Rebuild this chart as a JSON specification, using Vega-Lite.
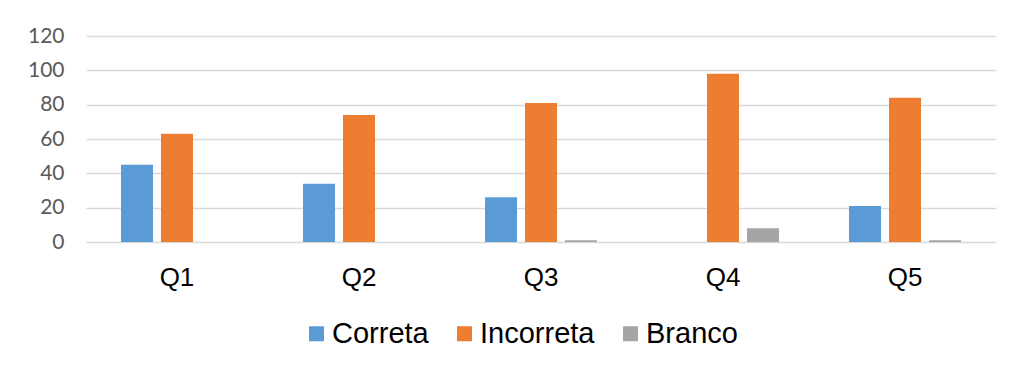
{
  "$schema": "https://vega.github.io/schema/vega-lite/v6.json",
  "width": 910,
  "height": 206,
  "autosize": {"type": "none"},
  "padding": {"left": 86, "top": 36, "right": 23, "bottom": 127},
  "background": "white",
  "data": {
    "values": [
      {"q": "Q1", "serie": "Correta", "v": 45},
      {"q": "Q1", "serie": "Incorreta", "v": 63},
      {"q": "Q1", "serie": "Branco", "v": 0},
      {"q": "Q2", "serie": "Correta", "v": 34},
      {"q": "Q2", "serie": "Incorreta", "v": 74},
      {"q": "Q2", "serie": "Branco", "v": 0},
      {"q": "Q3", "serie": "Correta", "v": 26},
      {"q": "Q3", "serie": "Incorreta", "v": 81},
      {"q": "Q3", "serie": "Branco", "v": 1},
      {"q": "Q4", "serie": "Correta", "v": 0},
      {"q": "Q4", "serie": "Incorreta", "v": 98},
      {"q": "Q4", "serie": "Branco", "v": 8},
      {"q": "Q5", "serie": "Correta", "v": 21},
      {"q": "Q5", "serie": "Incorreta", "v": 84},
      {"q": "Q5", "serie": "Branco", "v": 1}
    ]
  },
  "mark": {"type": "bar"},
  "encoding": {
    "x": {
      "field": "q",
      "type": "nominal",
      "scale": {"paddingInner": 0.3407, "paddingOuter": 0.1703},
      "axis": {
        "title": null,
        "labelAngle": 0,
        "domain": false,
        "ticks": false,
        "labelFont": "Liberation Sans",
        "labelFontSize": 26,
        "labelColor": "#000000",
        "labelPadding": 22
      }
    },
    "xOffset": {
      "field": "serie",
      "type": "nominal",
      "sort": ["Correta", "Incorreta", "Branco"],
      "scale": {"paddingInner": 0.2, "paddingOuter": 0.1}
    },
    "y": {
      "field": "v",
      "type": "quantitative",
      "scale": {"domain": [0, 120], "nice": false},
      "axis": {
        "title": null,
        "values": [0, 20, 40, 60, 80, 100, 120],
        "domain": false,
        "ticks": false,
        "grid": true,
        "gridColor": "#D9D9D9",
        "gridWidth": 1.5,
        "labelFont": "Lato",
        "labelFontSize": 21,
        "labelColor": "#595959",
        "labelPadding": 22
      }
    },
    "color": {
      "field": "serie",
      "type": "nominal",
      "scale": {
        "domain": ["Correta", "Incorreta", "Branco"],
        "range": ["#5B9BD5", "#ED7D31", "#A5A5A5"]
      },
      "legend": {
        "title": null,
        "orient": "none",
        "direction": "horizontal",
        "legendX": 216,
        "legendY": 283,
        "symbolType": "square",
        "symbolSize": 225,
        "symbolStrokeWidth": 0,
        "labelFont": "Liberation Sans",
        "labelFontSize": 29,
        "labelColor": "#000000",
        "labelOffset": 1,
        "columnPadding": 21,
        "labelLimit": 300
      }
    }
  },
  "config": {
    "view": {"stroke": null}
  }
}
